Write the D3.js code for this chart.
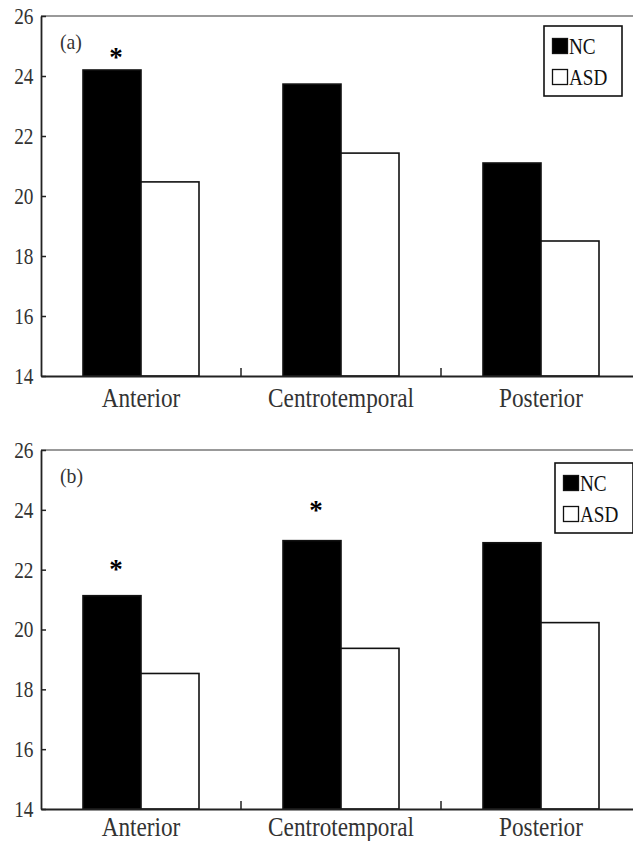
<!DOCTYPE html>
<html>
<head>
<meta charset="utf-8">
<script src="https://cdn.jsdelivr.net/npm/d3@7"></script>
<style>
    body { margin: 0; background: #fff; }
    svg { display: block; }
    text { font-family: "Liberation Serif", "DejaVu Serif", serif; fill: #333; }
</style>
</head>
<body>
<svg id="chart" width="633" height="841"></svg>
<script>
(function () {

    // regions on the x axis
    var regions = ["Anterior", "Centrotemporal", "Posterior"];
    var groups = ["NC", "ASD"];
    var yTicks = [14, 16, 18, 20, 22, 24, 26];

    // panel (a)
    var ncA = [24.2, 23.73, 21.1];
    var asdA = [20.47, 21.43, 18.5];
    var starsA = [24.7, null, null];

    // panel (b)
    var ncB = [21.13, 22.97, 22.9];
    var asdB = [18.53, 19.37, 20.23];
    var starsB = [22.1, 24.07, null];

    var svg = d3.select("#chart");

    function drawPanel(label, nc, asd, stars, top, bottom, labelPad, legendX, legendY) {
        var left = 41, right = 641;

        var x = d3.scaleBand()
            .domain(regions)
            .range([left, right])
            .paddingInner(0.42)
            .paddingOuter(0.21);

        var xSub = d3.scaleBand()
            .domain(groups)
            .range([0, x.bandwidth()]);

        var y = d3.scaleLinear()
            .domain([14, 26])
            .range([bottom, top]);

        var g = svg.append("g");

        var rows = regions.map(function (r, i) {
            return { region: r, NC: nc[i], ASD: asd[i], star: stars[i] };
        });

        // bars
        rows.forEach(function (row) {
            groups.forEach(function (k) {
                g.append("rect")
                    .attr("x", x(row.region) + xSub(k))
                    .attr("y", y(row[k]))
                    .attr("width", xSub.bandwidth())
                    .attr("height", y(14) - y(row[k]))
                    .attr("fill", k === "NC" ? "#000" : "#fff")
                    .attr("stroke", "#111")
                    .attr("stroke-width", 1.6);
            });
            if (row.star !== null) {
                g.append("text")
                    .attr("x", x(row.region) + xSub("NC") + xSub.bandwidth() / 2 + 4)
                    .attr("y", y(row.star) + 11)
                    .attr("text-anchor", "middle")
                    .style("font-size", "27px")
                    .style("font-weight", "bold")
                    .style("fill", "#000")
                    .text("*");
            }
        });

        // top border
        g.append("line")
            .attr("x1", left).attr("x2", 633)
            .attr("y1", top).attr("y2", top)
            .attr("stroke", "#999")
            .attr("stroke-width", 2);

        // y axis
        var yAxis = g.append("g")
            .attr("transform", "translate(" + left + ",0)")
            .call(d3.axisLeft(y).tickValues(yTicks).tickSize(-5).tickSizeOuter(0).tickPadding(9));
        yAxis.select(".domain").attr("stroke", "#222").attr("stroke-width", 1.8);
        yAxis.selectAll(".tick line").attr("stroke", "#222").attr("stroke-width", 1.5);
        yAxis.selectAll("text")
            .style("font-size", "23px")
            .style("font-family", "'Liberation Serif', serif")
            .attr("fill", "#333")
            .attr("transform", "scale(0.84,1)");

        // x axis
        var xAxis = g.append("g")
            .attr("transform", "translate(0," + bottom + ")")
            .call(d3.axisBottom(x).tickSize(0).tickSizeOuter(0).tickPadding(labelPad));
        xAxis.select(".domain").attr("stroke", "#222").attr("stroke-width", 1.8);
        xAxis.selectAll("text")
            .style("font-size", "28px")
            .style("font-family", "'Liberation Serif', serif")
            .attr("fill", "#333")
            .attr("transform", "scale(0.83,1)");

        // small ticks between regions
        regions.slice(1).forEach(function (r) {
            var bx = x(r) - x.step() * x.paddingInner() / 2;
            g.append("line")
                .attr("x1", bx).attr("x2", bx)
                .attr("y1", bottom).attr("y2", bottom - 8)
                .attr("stroke", "#222")
                .attr("stroke-width", 1.5);
        });

        // panel label
        g.append("text")
            .attr("x", 60 / 0.9)
            .attr("y", top + 33)
            .style("font-size", "22px")
            .attr("transform", "scale(0.9,1)")
            .text(label);

        // legend
        var lg = g.append("g").attr("transform", "translate(" + legendX + "," + legendY + ")");
        lg.append("rect")
            .attr("width", 78).attr("height", 70)
            .attr("fill", "#fff")
            .attr("stroke", "#111")
            .attr("stroke-width", 1.6);
        groups.forEach(function (k, i) {
            lg.append("rect")
                .attr("x", 8.5).attr("y", 12.5 + i * 31)
                .attr("width", 15).attr("height", 15)
                .attr("fill", k === "NC" ? "#000" : "#fff")
                .attr("stroke", "#111")
                .attr("stroke-width", 1.3);
            lg.append("text")
                .attr("x", 25 / 0.8)
                .attr("y", 28 + i * 31)
                .attr("transform", "scale(0.8,1)")
                .style("font-size", "24px")
                .style("fill", "#111")
                .text(k);
        });
    }

    drawPanel("(a)", ncA, asdA, starsA, 16, 376, 11, 544, 26);
    drawPanel("(b)", ncB, asdB, starsB, 450, 809, 7, 555, 463);

})();
</script>
</body>
</html>
